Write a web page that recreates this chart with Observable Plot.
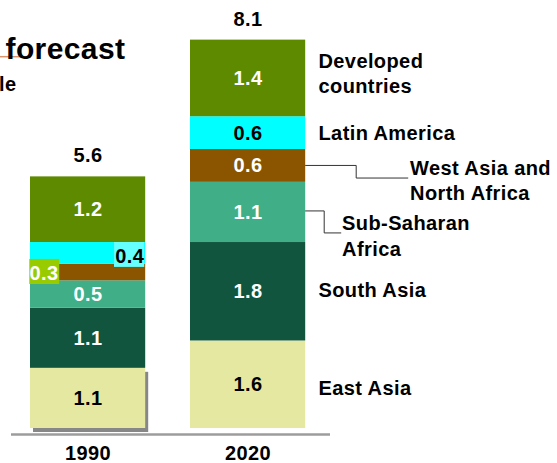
<!DOCTYPE html>
<html>
<head>
<meta charset="utf-8">
<script src="https://cdn.jsdelivr.net/npm/d3@7"></script>
<script src="https://cdn.jsdelivr.net/npm/@observablehq/plot@0.6"></script>
<style>
  html, body { margin: 0; padding: 0; background: #fff; }
  #chart svg text { letter-spacing: 0.4px; }
</style>
</head>
<body>
<div id="chart"></div>
<script>
// ---- data ----
const years = ["1990", "2020"];
const regions = ["East Asia", "South Asia", "Sub-Saharan Africa", "West Asia and North Africa", "Latin America", "Developed countries"];
const regionLabels = ["East Asia", "South Asia", "Sub-Saharan\nAfrica", "West Asia and\nNorth Africa", "Latin America", "Developed\ncountries"];
const values1990 = [1.1, 1.1, 0.5, 0.3, 0.4, 1.2];
const values2020 = [1.6, 1.8, 1.1, 0.6, 0.6, 1.4];
const totals = ["5.6", "8.1"];
const titleText = "forecast";
const subtitleText = "le";

// ---- styles ----
const colors = ["#e5e8a1", "#12553e", "#40af87", "#8b5500", "#00ffff", "#5e8a00"];
const labelColors = ["#000", "#fff", "#fff", "#fff", "#000", "#fff"];
const FONT = "'Liberation Sans', Arial, Helvetica, sans-serif";

const data = [];
years.forEach((yr, i) => {
  const vals = i === 0 ? values1990 : values2020;
  regions.forEach((r, j) => data.push({year: yr, region: r, value: vals[j], idx: j}));
});
const is04 = d => d.year === "1990" && d.idx === 4;
const is03 = d => d.year === "1990" && d.idx === 3;

// label offsets for right-side region names (2020 bar), pixels
const labelLayout = [
  {dx: 70.4, dy: 2},
  {dx: 70.4, dy: -2.7},
  {dx: 94, dy: 22.5},
  {dx: 162, dy: 13.5},
  {dx: 70.4, dy: -0.7},
  {dx: 70.4, dy: -5.8}
];

const stack = o => Plot.stackY({x: "year", y: "value", ...o});

function leaders(index, scales) {
  const {x, y} = scales;
  const bw = typeof x.bandwidth === "function" ? x.bandwidth() : (x.bandwidth ?? 115.2);
  const xr = x("2020") + bw;
  const base = k => d3.sum(values2020.slice(0, k));
  const mid = k => y(base(k) + values2020[k] / 2);
  const g = d3.create("svg:g").attr("fill", "none").attr("stroke", "#333").attr("stroke-width", 1);
  const yw = mid(3);
  g.append("path").attr("d", `M${xr},${yw}H${xr + 51}V${yw + 12.6}H${xr + 103}`);
  const ys = mid(2) - 1;
  g.append("path").attr("d", `M${xr},${ys}H${xr + 19}V${ys + 22}H${xr + 36}`);
  // decorative title underline
  g.append("path").attr("d", `M0,56.7H31`).attr("stroke", "#d9946b").attr("stroke-width", 1.5);
  return g.node();
}

const chart = Plot.plot({
  width: 557,
  height: 463,
  marginTop: 0, marginRight: 0, marginBottom: 0, marginLeft: 0,
  style: {fontFamily: FONT, background: "#fff", overflow: "hidden"},
  x: {domain: years, range: [-14.8, 350], padding: 0.28, round: false, axis: null},
  y: {domain: [0, 8], range: [428, 428 - 8 * 54.7], axis: null},
  color: {type: "identity"},
  marks: [
    // drop shadow of 1990 bottom segment
    Plot.barY(data, stack({fill: d => (d.year === "1990" && d.idx === 0) ? "#878787" : "transparent", dx: 3, dy: 4})),
    // stacked bars
    Plot.barY(data, stack({fill: d => colors[d.idx]})),
    // callout boxes
    Plot.barY(data, stack({fill: d => is04(d) ? "#66ffff" : "transparent", insetLeft: 84, insetRight: 1, insetTop: 0, insetBottom: -3})),
    Plot.barY(data, stack({fill: d => is03(d) ? "#99cc00" : "transparent", insetLeft: -0.7, insetRight: 86, insetTop: -5, insetBottom: -3.7})),
    // value labels
    Plot.text(data, stack({
      text: d => (is03(d) || is04(d)) ? null : d.value.toFixed(1),
      fill: d => labelColors[d.idx], fontSize: 20, fontWeight: "bold"
    })),
    Plot.text(data, stack({text: d => is04(d) ? d.value.toFixed(1) : null, fill: "#000", fontSize: 20, fontWeight: "bold", dx: 41.7, dy: 3})),
    Plot.text(data, stack({text: d => is03(d) ? d.value.toFixed(1) : null, fill: "#fff", fontSize: 20, fontWeight: "bold", dx: -44.2, dy: 1})),
    // totals
    Plot.text(years, {
      x: d => d, y: (d, i) => d3.sum(i === 0 ? values1990 : values2020),
      text: (d, i) => totals[i], dy: -21, fontSize: 20, fontWeight: "bold", fill: "#000"
    }),
    // region labels (2020)
    ...regions.map((r, j) => Plot.text(data, stack({
      text: d => (d.year === "2020" && d.idx === j) ? regionLabels[j] : null,
      textAnchor: "start", lineHeight: 1.26, fontSize: 20, fontWeight: "bold", fill: "#000",
      dx: labelLayout[j].dx, dy: labelLayout[j].dy
    }))),
    leaders,
    // baseline
    Plot.ruleY([0], {stroke: "#9c9c9c", strokeWidth: 2.5, dy: 6, insetLeft: 11, insetRight: 227}),
    // x tick labels
    Plot.text(years, {x: d => d, y: 0, text: d => d, dy: 25, fontSize: 20, fontWeight: "bold", fill: "#000"}),
    // title / subtitle (partially cropped in reference)
    Plot.text([titleText], {frameAnchor: "top-left", text: d => d, textAnchor: "start", dx: 5, dy: 37.5, fontSize: 30, fontWeight: "bold", fill: "#000"}),
    Plot.text([subtitleText], {frameAnchor: "top-left", text: d => d, textAnchor: "start", dx: -1.5, dy: 76.5, fontSize: 20, fontWeight: "bold", fill: "#000"})
  ]
});
document.getElementById("chart").appendChild(chart);
</script>
</body>
</html>
